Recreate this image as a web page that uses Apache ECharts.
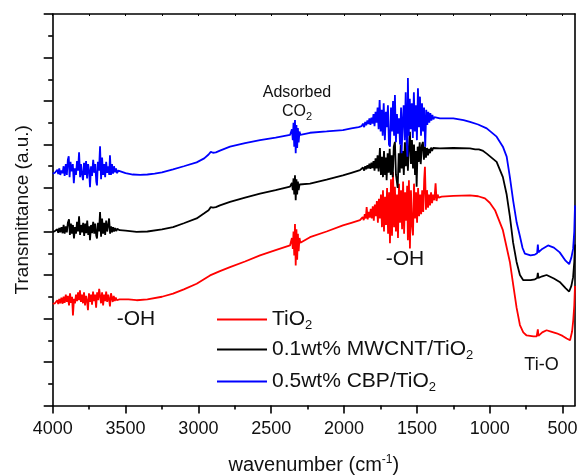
<!DOCTYPE html>
<html><head><meta charset="utf-8">
<script src="https://cdn.jsdelivr.net/npm/echarts@6/dist/echarts.min.js"></script>
<style>html,body{margin:0;padding:0;background:#fff}#c{width:578px;height:475px}</style>
</head><body><div id="c"></div>
<script>
// ---- data (wavenumber cm-1, transmittance a.u. with offsets) ----
const xTicks = [4000, 3500, 3000, 2500, 2000, 1500, 1000, 500];
const xMinorTicks = [3750, 3250, 2750, 2250, 1750, 1250, 750];
const xTopTicks = [4000, 3750, 3500, 3250, 3000, 2750, 2500, 2250, 2000, 1750, 1500, 1250, 1000, 750, 500];
const seriesNames = ['TiO2', '0.1wt% MWCNT/TiO2', '0.5wt% CBP/TiO2'];
const seriesColors = ['#ff0000', '#000000', '#0000ff'];

const tio2 = [
[4000,2.34],[3985,2.35],[3975,2.36],[3968,2.42],[3962,2.33],[3955,2.45],[3948,2.35],[3940,2.48],[3932,2.34],[3925,2.50],[3918,2.36],[3910,2.55],[3903,2.38],[3896,2.52],[3888,2.30],[3881,2.58],[3874,2.36],[3867,2.50],[3861,2.07],[3854,2.45],[3847,2.35],[3840,2.55],[3833,2.40],[3826,2.60],[3819,2.42],[3813,2.65],[3806,2.38],[3799,2.55],[3792,2.35],[3785,2.60],[3778,2.30],[3771,2.52],[3764,2.40],[3758,2.19],[3751,2.58],[3744,2.38],[3737,2.55],[3730,2.32],[3723,2.62],[3716,2.40],[3709,2.55],[3702,2.25],[3695,2.60],[3688,2.42],[3681,2.68],[3675,2.72],[3668,2.35],[3661,2.60],[3654,2.30],[3647,2.55],[3640,2.40],[3633,2.62],[3626,2.38],[3619,2.55],[3612,2.42],[3607,2.28],[3600,2.58],[3595,2.61],[3588,2.38],[3581,2.52],[3574,2.40],[3567,2.48],[3560,2.42],[3552,2.46],[3542,2.44],
[3538,2.46],[3480,2.44],[3424,2.42],[3350,2.44],[3250,2.50],[3174,2.57],[3100,2.67],[3012,2.80],[2920,2.99],[2852,3.09],[2783,3.18],[2680,3.31],[2577,3.45],[2470,3.57],[2371,3.68],
[2365,3.70],[2358,3.85],[2352,3.60],[2347,4.00],[2342,3.45],[2337,4.17],[2332,3.22],[2327,4.05],[2322,3.35],[2317,3.95],[2312,3.55],[2306,3.85],[2300,3.74],
[2234,3.87],[2120,4.00],[2008,4.14],[1950,4.20],[1891,4.26],
[1880,4.28],[1872,4.33],[1865,4.26],[1858,4.40],[1851,4.30],[1845,4.56],[1838,4.28],[1831,4.45],[1824,4.32],[1817,4.52],[1810,4.30],[1803,4.58],[1796,4.25],[1789,4.62],[1782,4.35],[1775,4.70],[1768,4.20],[1761,4.75],[1754,4.30],[1747,4.85],[1740,4.10],[1733,4.95],[1726,4.00],[1719,4.80],[1712,4.15],[1705,5.00],[1698,3.95],[1691,4.90],[1685,3.73],[1678,5.20],[1671,3.90],[1664,5.37],[1657,4.10],[1651,5.03],[1644,4.00],[1637,4.85],[1630,3.85],[1623,5.10],[1616,4.20],[1609,4.95],[1602,4.05],[1595,5.15],[1588,3.95],[1581,4.90],[1574,4.25],[1567,5.05],[1562,3.80],[1555,5.18],[1548,3.61],[1541,4.95],[1534,4.15],[1527,3.91],[1520,5.10],[1513,4.30],[1506,4.90],[1499,4.20],[1492,5.00],[1485,4.35],[1478,4.85],[1471,4.40],[1464,4.95],[1457,4.45],[1450,5.20],[1445,5.49],[1438,4.50],[1431,4.95],[1424,4.55],[1417,4.85],[1410,4.60],[1403,4.90],[1396,4.65],[1389,4.85],[1380,4.72],[1372,5.11],[1365,4.70],[1358,4.85],[1350,4.78],
[1330,4.80],[1250,4.82],[1136,4.83],[1080,4.81],[1033,4.76],[1000,4.66],[964,4.49],[910,4.03],[862,3.30],[838,2.75],[816,2.25],[793,1.85],[770,1.68],[747,1.61],[700,1.59],[678,1.59],[670,1.75],[666,1.60],[640,1.68],[610,1.73],[580,1.70],[541,1.66],[500,1.60],[472,1.54],[449,1.50],[435,1.70],[427,1.96],[420,2.30],[415,2.75]
];

const mwcnt = [
[4000,3.99],[3985,4.01],[3975,4.00],[3968,4.05],[3962,3.97],[3955,4.08],[3948,3.98],[3940,4.10],[3932,3.96],[3925,4.15],[3918,3.95],[3910,4.12],[3903,3.98],[3896,4.20],[3888,4.28],[3882,3.92],[3875,4.18],[3868,3.95],[3861,4.15],[3854,3.84],[3847,4.10],[3840,3.95],[3833,4.22],[3826,4.00],[3819,4.35],[3812,3.92],[3805,4.15],[3798,3.98],[3791,4.20],[3784,3.90],[3777,4.18],[3770,3.96],[3763,4.25],[3756,3.92],[3749,4.12],[3744,3.80],[3737,4.15],[3730,3.96],[3722,4.22],[3715,3.95],[3708,4.18],[3701,3.90],[3696,3.84],[3689,4.20],[3682,4.00],[3675,4.45],[3668,3.88],[3661,4.30],[3654,3.95],[3647,4.20],[3640,3.92],[3633,4.25],[3626,4.00],[3619,4.15],[3613,4.30],[3606,3.95],[3599,4.12],[3592,3.98],[3585,4.10],[3578,4.00],[3571,4.08],[3564,4.01],[3557,4.06],[3550,4.03],[3540,4.03],
[3500,4.02],[3424,3.99],[3350,4.00],[3250,4.05],[3174,4.10],[3100,4.19],[3012,4.30],[2960,4.42],[2930,4.49],[2915,4.56],[2900,4.55],[2880,4.56],[2852,4.60],[2783,4.68],[2680,4.78],[2577,4.87],[2470,4.95],[2371,5.03],
[2365,5.03],[2358,5.12],[2352,4.95],[2347,5.22],[2342,4.85],[2337,5.29],[2332,4.72],[2327,5.20],[2322,4.85],[2317,5.15],[2312,4.95],[2306,5.08],[2300,5.04],
[2234,5.10],[2120,5.19],[2008,5.29],[1950,5.35],[1891,5.41],
[1880,5.42],[1870,5.47],[1862,5.40],[1855,5.50],[1848,5.43],[1840,5.52],[1833,5.45],[1826,5.56],[1819,5.44],[1812,5.58],[1805,5.46],[1798,5.62],[1791,5.40],[1784,5.68],[1777,5.45],[1770,5.75],[1763,5.38],[1754,5.92],[1747,5.30],[1740,5.72],[1733,5.25],[1726,5.85],[1719,5.30],[1712,5.70],[1708,5.18],[1701,5.80],[1694,5.35],[1687,5.90],[1680,5.30],[1673,5.75],[1666,5.25],[1659,5.95],[1651,6.06],[1644,5.30],[1639,5.18],[1632,5.00],[1625,5.80],[1618,5.35],[1611,6.00],[1604,5.45],[1597,5.85],[1590,5.30],[1583,6.05],[1576,5.50],[1569,6.15],[1562,5.40],[1555,5.95],[1548,6.29],[1541,5.55],[1534,6.10],[1527,5.45],[1520,6.00],[1513,5.30],[1506,5.85],[1502,5.03],[1495,5.95],[1488,5.60],[1481,6.05],[1474,5.55],[1466,5.98],[1459,6.06],[1452,5.65],[1445,5.95],[1438,5.70],[1431,5.92],[1424,5.75],[1417,5.90],[1410,5.80],[1403,5.93],[1396,5.85],[1389,5.92],[1380,5.90],
[1342,5.91],[1250,5.92],[1136,5.91],[1100,5.89],[1090,5.86],[1075,5.89],[1050,5.86],[1021,5.79],[953,5.60],[910,5.25],[884,4.85],[862,4.35],[840,3.75],[816,3.30],[793,3.00],[770,2.88],[720,2.88],[690,2.90],[675,2.93],[670,3.05],[666,2.93],[640,2.97],[610,3.00],[560,2.92],[520,2.84],[480,2.70],[455,2.62],[440,2.75],[428,2.95],[420,3.30],[415,3.70]
];

const cbp = [
[4000,5.33],[3985,5.35],[3975,5.36],[3968,5.42],[3962,5.32],[3955,5.45],[3948,5.30],[3940,5.40],[3932,5.34],[3925,5.50],[3918,5.28],[3910,5.55],[3903,5.30],[3896,5.65],[3890,5.73],[3884,5.25],[3878,5.60],[3870,5.38],[3862,5.55],[3855,5.11],[3848,5.45],[3840,5.30],[3833,5.62],[3826,5.40],[3819,5.82],[3812,5.25],[3806,5.55],[3799,5.32],[3792,5.18],[3785,5.58],[3778,5.30],[3771,5.62],[3764,5.22],[3757,5.55],[3750,5.40],[3744,5.02],[3737,5.50],[3730,5.28],[3722,5.65],[3715,5.35],[3708,5.55],[3701,5.15],[3696,5.06],[3690,5.60],[3682,5.40],[3675,5.96],[3668,5.20],[3661,5.70],[3654,5.30],[3647,5.55],[3640,5.25],[3633,5.60],[3626,5.35],[3619,5.50],[3612,5.30],[3607,5.75],[3600,5.30],[3593,5.55],[3586,5.33],[3579,5.50],[3572,5.36],[3565,5.45],[3558,5.34],[3550,5.40],[3542,5.36],
[3538,5.37],[3500,5.34],[3450,5.31],[3400,5.30],[3350,5.31],[3300,5.33],[3250,5.36],[3174,5.43],[3100,5.50],[3012,5.59],[2960,5.68],[2930,5.77],[2915,5.83],[2900,5.81],[2880,5.82],[2852,5.86],[2783,5.95],[2680,6.03],[2577,6.10],[2470,6.16],[2371,6.22],
[2365,6.22],[2358,6.35],[2352,6.10],[2347,6.50],[2342,5.95],[2337,6.56],[2332,5.80],[2327,6.45],[2322,5.92],[2317,6.38],[2312,6.05],[2306,6.30],[2300,6.22],
[2234,6.27],[2120,6.30],[2008,6.33],[1950,6.37],[1900,6.40],
[1880,6.42],[1870,6.48],[1862,6.40],[1855,6.52],[1848,6.44],[1840,6.55],[1833,6.47],[1826,6.60],[1819,6.45],[1812,6.62],[1805,6.48],[1798,6.70],[1791,6.42],[1784,6.75],[1777,6.50],[1770,6.85],[1763,6.35],[1756,7.02],[1749,6.30],[1742,6.80],[1735,6.20],[1728,6.95],[1720,6.10],[1713,6.75],[1706,6.40],[1699,6.90],[1692,6.00],[1685,5.95],[1678,6.85],[1671,6.30],[1664,7.00],[1657,6.20],[1651,7.14],[1644,6.05],[1637,6.70],[1630,6.25],[1623,6.60],[1616,6.00],[1609,6.85],[1605,5.80],[1598,6.50],[1591,6.90],[1584,6.10],[1577,7.20],[1570,6.00],[1565,5.72],[1562,7.53],[1556,6.20],[1549,7.05],[1542,6.35],[1535,6.95],[1528,6.15],[1521,7.20],[1514,6.30],[1507,6.90],[1500,6.10],[1493,7.29],[1486,6.40],[1479,7.10],[1472,6.20],[1465,6.95],[1458,6.30],[1451,6.85],[1443,5.95],[1436,6.80],[1429,6.45],[1422,6.75],[1415,6.50],[1408,6.72],[1401,6.55],[1394,6.68],[1387,6.58],[1380,6.63],
[1342,6.60],[1250,6.60],[1180,6.56],[1136,6.52],[1080,6.46],[1021,6.37],[953,6.18],[910,5.95],[884,5.72],[862,5.25],[839,4.70],[815,4.20],[793,3.89],[775,3.62],[759,3.49],[720,3.45],[690,3.47],[675,3.50],[670,3.70],[666,3.52],[640,3.60],[600,3.68],[560,3.63],[520,3.52],[480,3.33],[455,3.25],[440,3.40],[428,3.60],[420,4.00],[415,4.60]
];
const seriesData = [tio2, mwcnt, cbp];

// ---- chart ----
const FONT = 'Liberation Sans, Arial, Helvetica, sans-serif';
const TXT = '#111';
const chart = echarts.init(document.getElementById('c'), null, {renderer: 'canvas'});

function subRich(size, subSize) {
  return {
    a: {fontSize: size, fontFamily: FONT, color: TXT, lineHeight: size + 4},
    s: {fontSize: subSize, fontFamily: FONT, color: TXT, verticalAlign: 'bottom', lineHeight: 6},
    p: {fontSize: subSize, fontFamily: FONT, color: TXT, verticalAlign: 'top', lineHeight: 6}
  };
}
function fmtName(n) {
  // render the trailing '2' of TiO2 as subscript
  return '{a|' + n.slice(0, -1) + '}{s|' + n.slice(-1) + '}';
}

const gridRect = {left: 52.7, right: 3, top: 14, bottom: 69.5, containLabel: false, outerBoundsMode: 'none'};
const axisLineStyle = {color: '#000', width: 1.6};

const legends = seriesNames.map((n, i) => ({
  show: true,
  data: [n],
  orient: 'vertical',
  left: 217,
  top: [309, 339, 371][i],
  right: 'auto',
  bottom: 'auto',
  padding: 0,
  icon: 'rect',
  itemWidth: 50,
  itemHeight: 2,
  formatter: fmtName,
  textStyle: {rich: subRich(21, 13), fontFamily: FONT, color: TXT, fontSize: 21},
  selectedMode: false
}));

chart.setOption({
  animation: false,
  backgroundColor: '#fff',
  grid: [Object.assign({}, gridRect), Object.assign({}, gridRect)],
  legend: legends,
  xAxis: [
    {
      type: 'value', gridIndex: 0, inverse: true, min: 415, max: 4000, position: 'bottom',
      axisLine: {show: true, onZero: false, lineStyle: axisLineStyle},
      axisTick: {show: true, customValues: xTicks, length: 8, inside: false, lineStyle: axisLineStyle},
      axisLabel: {show: true, customValues: xTicks, formatter: v => String(v), margin: 15, fontSize: 18, fontFamily: FONT, color: TXT},
      splitLine: {show: false},
      name: '{a|wavenumber (cm}{p|-1}{a|)}',
      nameLocation: 'middle', nameGap: 48,
      nameTextStyle: {rich: subRich(20, 12)}
    },
    {
      type: 'value', gridIndex: 0, inverse: true, min: 415, max: 4000, position: 'top',
      axisLine: {show: true, onZero: false, lineStyle: axisLineStyle},
      axisTick: {show: true, customValues: xTopTicks, length: 2, inside: true, lineStyle: {color: '#000', width: 1}},
      axisLabel: {show: false}, splitLine: {show: false}
    },
    {
      type: 'value', gridIndex: 1, inverse: true, min: 415, max: 4000, position: 'bottom',
      axisLine: {show: false},
      axisTick: {show: true, customValues: xMinorTicks, length: 4, inside: false, lineStyle: axisLineStyle},
      axisLabel: {show: false}, splitLine: {show: false}
    }
  ],
  yAxis: [
    {
      type: 'value', gridIndex: 0, min: 0, max: 9, interval: 1, position: 'left',
      axisLine: {show: true, onZero: false, lineStyle: axisLineStyle},
      axisTick: {show: true, length: 9, inside: false, lineStyle: axisLineStyle},
      minorTick: {show: true, splitNumber: 2, length: 4.5, lineStyle: axisLineStyle},
      axisLabel: {show: false}, splitLine: {show: false},
      name: 'Transmittance (a.u.)', nameLocation: 'middle', nameGap: 20,
      nameTextStyle: {fontSize: 19, fontFamily: FONT, color: TXT}
    },
    {
      type: 'value', gridIndex: 0, min: 0, max: 9, position: 'right',
      axisLine: {show: true, onZero: false, lineStyle: axisLineStyle},
      axisTick: {show: false}, axisLabel: {show: false}, splitLine: {show: false}
    },
    {
      type: 'value', gridIndex: 1, min: 0, max: 9, show: false
    }
  ],
  series: seriesNames.map((n, i) => ({
    name: n, type: 'line', xAxisIndex: 0, yAxisIndex: 0,
    data: seriesData[i], symbol: 'none', showSymbol: false, smooth: false,
    sampling: null, clip: true,
    color: seriesColors[i],
    lineStyle: {color: seriesColors[i], width: 1.8},
    emphasis: {disabled: true}
  })),
  graphic: [
    {type: 'text', x: 297, y: 93, style: {text: 'Adsorbed', fontSize: 16, fontFamily: FONT, fill: TXT, align: 'center', verticalAlign: 'middle'}},
    {type: 'text', x: 297, y: 112, style: {text: '{a|CO}{s|2}', rich: subRich(16, 11), fill: TXT, align: 'center', verticalAlign: 'middle'}},
    {type: 'text', x: 405, y: 259.5, style: {text: '-OH', fontSize: 21, fontFamily: FONT, fill: TXT, align: 'center', verticalAlign: 'middle'}},
    {type: 'text', x: 136, y: 319, style: {text: '-OH', fontSize: 21, fontFamily: FONT, fill: TXT, align: 'center', verticalAlign: 'middle'}},
    {type: 'text', x: 541.5, y: 365, style: {text: 'Ti-O', fontSize: 18, fontFamily: FONT, fill: TXT, align: 'center', verticalAlign: 'middle'}}
  ]
});
</script>
</body></html>
